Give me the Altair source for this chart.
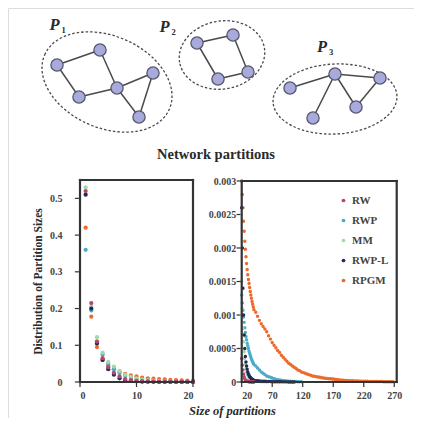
import altair as alt
import pandas as pd

# ---------------- data ----------------
SERIES = ["RW", "RWP", "MM", "RWP-L", "RPGM"]
COLORS = ["#b8456a", "#4bacc6", "#a3d9a8", "#1f2a5c", "#ec6a2c"]
DRAW_ORDER = ["RPGM", "RWP", "MM", "RWP-L", "RW"]

# left panel: partition sizes 1..20
LEFT_SIZES = list(range(1, 21))
LEFT_RW = [0.52, 0.215, 0.11, 0.065, 0.04, 0.025, 0.015, 0.008, 0.005, 0.003,
           0.002, 0.001, 0.001, 0.0005, 0.0004, 0.0003, 0.0002, 0.0002, 0.0001, 0.0001]
LEFT_RWP = [0.36, 0.195, 0.11, 0.075, 0.05, 0.035, 0.025, 0.017, 0.011, 0.008,
            0.005, 0.004, 0.003, 0.002, 0.0015, 0.0012, 0.001, 0.0008, 0.0006, 0.0005]
LEFT_MM = [0.53, 0.205, 0.122, 0.08, 0.055, 0.042, 0.03, 0.02, 0.014, 0.01,
           0.007, 0.005, 0.004, 0.003, 0.002, 0.0015, 0.0012, 0.001, 0.0008, 0.0006]
LEFT_RWPL = [0.51, 0.2, 0.105, 0.06, 0.035, 0.02, 0.01, 0.005, 0.003, 0.002,
             0.001, 0.001, 0.0005, 0.0003, 0.0002, 0.0002, 0.0001, 0.0001, 0.0001, 0.0001]
LEFT_RPGM = [0.42, 0.178, 0.095, 0.06, 0.045, 0.035, 0.028, 0.022, 0.018, 0.015,
             0.012, 0.01, 0.009, 0.008, 0.007, 0.006, 0.005, 0.0045, 0.004, 0.0035]

# right panel: sizes 20..40 every 1, then every 3 from 43
RIGHT_HEAD_SIZES = list(range(20, 41))
RIGHT_RW_HEAD = [0.00035, 0.00025, 0.00018, 0.00012, 0.00008, 0.00005, 0.00003, 0.00002,
                 0.000015, 0.00001, 0.000008, 0.000006, 0.000005, 0.000004, 0.000003,
                 0.000002, 0.000002, 0.000001, 0.000001, 0.000001, 0.000001]
RIGHT_RW_TAIL = []
RIGHT_RWP_HEAD = [0.0013, 0.00118, 0.00107, 0.00097, 0.00089, 0.00081, 0.00074, 0.00068,
                  0.00063, 0.00058, 0.00054, 0.0005, 0.00046, 0.00043, 0.0004, 0.00037,
                  0.00034, 0.00032, 0.0003, 0.00028, 0.00026]
RIGHT_RWP_TAIL = [0.00024, 0.00021, 0.00018, 0.00015, 0.00013, 0.00011, 0.00009, 0.00008,
                  0.00007, 0.00006, 0.00005, 0.00004, 0.000035, 0.00003, 0.000025, 0.00002,
                  0.000018, 0.000015, 0.000012, 0.00001, 0.000008, 0.000007, 0.000006,
                  0.000005, 0.000004, 0.000003]
RIGHT_MM_HEAD = [0.0015, 0.0011, 0.0008, 0.0006, 0.00045, 0.00035, 0.00027, 0.0002, 0.00015,
                 0.00012, 0.0001, 0.00008, 0.00006, 0.00005, 0.00004, 0.00003, 0.000025,
                 0.00002, 0.000018, 0.000015, 0.000012]
RIGHT_MM_TAIL = [0.00001, 0.000008, 0.000006, 0.000005, 0.000004, 0.000003, 0.000002]
RIGHT_RWPL_HEAD = [0.0026, 0.002, 0.0014, 0.001, 0.0007, 0.0005, 0.00038, 0.0003, 0.00024,
                   0.00019, 0.00015, 0.00012, 0.0001, 0.00008, 0.00007, 0.00006, 0.00005,
                   0.00004, 0.000035, 0.00003, 0.000025]
RIGHT_RWPL_TAIL = [0.00002, 0.000018, 0.000015, 0.000013, 0.000011, 0.00001, 0.000008,
                   0.000007, 0.000006, 0.000005, 0.000005, 0.000004, 0.000004, 0.000003,
                   0.000003, 0.000002, 0.000002, 0.000002, 0.000001, 0.000001, 0.000001,
                   0.000001]
RIGHT_RPGM_HEAD = [0.003, 0.0028, 0.0026, 0.0024, 0.00225, 0.0021, 0.00198, 0.00187, 0.00177,
                   0.00168, 0.0016, 0.00153, 0.00147, 0.00141, 0.00135, 0.0013, 0.00125,
                   0.0012, 0.00116, 0.00112, 0.00108]
RIGHT_RPGM_TAIL = [0.00104, 0.00098, 0.00092, 0.00087, 0.00083, 0.00079, 0.00075, 0.00069,
                   0.00064, 0.00059, 0.00055, 0.00051, 0.00047, 0.00044, 0.0004, 0.00037,
                   0.00034, 0.00031, 0.00028, 0.00026, 0.00024, 0.00022, 0.0002, 0.00018,
                   0.00017, 0.00015, 0.00014, 0.00013, 0.00012, 0.00011, 0.0001, 0.00009,
                   0.000085, 0.00008, 0.000075, 0.00007, 0.000065, 0.00006, 0.000057,
                   0.000054, 0.00005, 0.000047, 0.000044, 0.00004, 0.000037, 0.000034,
                   0.000031, 0.000028, 0.000026, 0.000024, 0.000022, 0.00002, 0.000019,
                   0.000018, 0.000016, 0.000015, 0.000014, 0.000013, 0.000012, 0.000011,
                   0.00001, 0.00001, 0.000009, 0.000009, 0.000008, 0.000008, 0.000007,
                   0.000007, 0.000006, 0.000006, 0.000005, 0.000005, 0.000005, 0.000004,
                   0.000004, 0.000004]

LEFT_X_DOMAIN = [0, 20]
LEFT_Y_DOMAIN = [0, 0.55]
RIGHT_X_DOMAIN = [20, 274]
RIGHT_Y_DOMAIN = [0, 0.003]
LEFT_X_TICKS = [0, 10, 20]
LEFT_Y_TICKS = [0, 0.1, 0.2, 0.3, 0.4, 0.5]
RIGHT_X_TICKS = [20, 70, 120, 170, 220, 270]
RIGHT_Y_TICKS = [0, 0.0005, 0.001, 0.0015, 0.002, 0.0025, 0.003]

# network diagram (picture coordinates)
NODE_X = [57, 100, 79, 117, 153, 139, 197, 233, 248, 218, 290, 335, 380, 356, 313]
NODE_Y = [65, 50, 97, 88, 73, 117, 43, 35, 72, 79, 88, 74, 78, 107, 118]
EDGES = [(0, 1), (0, 2), (2, 3), (1, 3), (3, 4), (3, 5), (4, 5),
         (6, 7), (7, 8), (8, 9), (9, 6),
         (10, 11), (14, 11), (11, 12), (11, 13), (13, 12)]
ELL_CX = [107, 222, 335]
ELL_CY = [82, 55, 99]
ELL_RX = [68, 43, 62]
ELL_RY = [46, 34, 35]
ELL_ANGLE = [23.5, 350, 357]
P_LABEL_X = [54.5, 164.5, 322]
P_LABEL_Y = [25, 26.5, 47]
P_SUBS = ["1", "2", "3"]
CAPTION = "Network partitions"

# ---------------- layout (page pixels) ----------------
PAGE_MARGIN = 8
W, H = 406, 410
LEFT_BOX = (80, 193, 180, 382)        # left, right, top, bottom of left plot frame
RIGHT_BOX = (241.7, 396.7, 181, 382)  # left, right, top, bottom of right plot frame
FRAME_HALF = 1.1
TICK_LEN = 4

SERIF = "Liberation Serif"
TXT = "#2a2a2a"
FRAME = "#333333"

# ---------------- tables ----------------
left_map = {"RW": LEFT_RW, "RWP": LEFT_RWP, "MM": LEFT_MM, "RWP-L": LEFT_RWPL, "RPGM": LEFT_RPGM}
rows = []
for s in DRAW_ORDER:
    for x, v in zip(LEFT_SIZES, left_map[s]):
        rows.append({"size": x, "value": v, "series": s})
left_df = pd.DataFrame(rows)

right_map = {
    "RW": (RIGHT_RW_HEAD, RIGHT_RW_TAIL),
    "RWP": (RIGHT_RWP_HEAD, RIGHT_RWP_TAIL),
    "MM": (RIGHT_MM_HEAD, RIGHT_MM_TAIL),
    "RWP-L": (RIGHT_RWPL_HEAD, RIGHT_RWPL_TAIL),
    "RPGM": (RIGHT_RPGM_HEAD, RIGHT_RPGM_TAIL),
}
rows = []
for s in DRAW_ORDER:
    head, tail = right_map[s]
    xs = RIGHT_HEAD_SIZES + list(range(43, 43 + 3 * len(tail), 3))
    for x, v in zip(xs, head + tail):
        rows.append({"size": x, "value": v, "series": s})
right_df = pd.DataFrame(rows)

nodes_df = pd.DataFrame({"x": NODE_X, "y": NODE_Y})
edges_df = pd.DataFrame([{"x": NODE_X[a], "y": NODE_Y[a], "x2": NODE_X[b], "y2": NODE_Y[b]}
                         for a, b in EDGES])


def ellipse_path(r):
    k = 0.5523
    return (f"M -1 0 C -1 {-k*r:.4f} {-k:.4f} {-r:.4f} 0 {-r:.4f} "
            f"C {k:.4f} {-r:.4f} 1 {-k*r:.4f} 1 0 "
            f"C 1 {k*r:.4f} {k:.4f} {r:.4f} 0 {r:.4f} "
            f"C {-k:.4f} {r:.4f} -1 {k*r:.4f} -1 0 Z")


def box_bars(box, h=FRAME_HALF):
    # four thin filled bars forming the frame of a plot box
    l, r, t, b = box
    return [{"x": l - h, "x2": r + h, "y": t - h, "y2": t + h},
            {"x": l - h, "x2": r + h, "y": b - h, "y2": b + h},
            {"x": l - h, "x2": l + h, "y": t - h, "y2": b + h},
            {"x": r - h, "x2": r + h, "y": t - h, "y2": b + h}]


frames_df = pd.DataFrame(box_bars(LEFT_BOX) + box_bars(RIGHT_BOX))

ell_df = pd.DataFrame({
    "x": ELL_CX, "y": ELL_CY,
    "path": [ellipse_path(ry / rx) for rx, ry in zip(ELL_RX, ELL_RY)],
    "size": [4 * rx * rx for rx in ELL_RX],
    "angle": ELL_ANGLE,
})
plab_df = pd.DataFrame({"x": P_LABEL_X, "y": P_LABEL_Y, "t": ["P"] * 3})
psub_df = pd.DataFrame({"x": [x + 9 for x in P_LABEL_X], "y": [y + 5 for y in P_LABEL_Y], "t": P_SUBS})
cap_df = pd.DataFrame({"x": [216], "y": [155], "t": [CAPTION]})

# ---------------- canvas ----------------
cx = alt.Scale(domain=[PAGE_MARGIN, PAGE_MARGIN + W], range=[0, W])
cy = alt.Scale(domain=[PAGE_MARGIN + H, PAGE_MARGIN], range=[H, 0])
X = lambda f: alt.X(f, type="quantitative", scale=cx, axis=None)
Y = lambda f: alt.Y(f, type="quantitative", scale=cy, axis=None)

ellipses = alt.Chart(ell_df).mark_point(
    filled=False, color="#4a4a4a", strokeWidth=1.3, strokeDash=[2.5, 2], opacity=1
).encode(
    x=X("x"), y=Y("y"),
    shape=alt.Shape("path:N", scale=None, legend=None),
    size=alt.Size("size:Q", scale=None, legend=None),
    angle=alt.Angle("angle:Q", scale=None),
)
edges = alt.Chart(edges_df).mark_rule(color="#4a4a4a", strokeWidth=1.5).encode(
    x=X("x"), y=Y("y"), x2="x2:Q", y2="y2:Q")
nodes = alt.Chart(nodes_df).mark_circle(
    size=150, fill="#a7aadb", stroke="#55586f", strokeWidth=1.3, opacity=1
).encode(x=X("x"), y=Y("y"))
plab = alt.Chart(plab_df).mark_text(
    font=SERIF, fontSize=16.5, fontStyle="italic", fontWeight="bold", color=TXT
).encode(x=X("x"), y=Y("y"), text="t:N")
psub = alt.Chart(psub_df).mark_text(
    font=SERIF, fontSize=8.5, fontWeight="bold", color=TXT
).encode(x=X("x"), y=Y("y"), text="t:N")
cap = alt.Chart(cap_df).mark_text(
    font=SERIF, fontSize=14.5, fontWeight="bold", color=TXT
).encode(x=X("x"), y=Y("y"), text="t:N")
frames = alt.Chart(frames_df).mark_rect(color=FRAME, opacity=1).encode(
    x=X("x"), y=Y("y"), x2="x2:Q", y2="y2:Q")
diagram = alt.layer(ellipses, edges, nodes, plab, psub, cap, frames)

# ---------------- panels ----------------
color_scale = alt.Scale(domain=SERIES, range=COLORS)
lab = dict(labelFont=SERIF, labelFontSize=10, labelFontWeight="bold", labelColor="#444",
           domain=False, grid=False, ticks=False)


def xr(box):
    return [box[0] - PAGE_MARGIN, box[1] - PAGE_MARGIN]


def yr(box):
    return [box[3] - PAGE_MARGIN, box[2] - PAGE_MARGIN]


# left panel
lx = alt.Scale(domain=LEFT_X_DOMAIN, range=xr(LEFT_BOX), nice=False, zero=False)
ly = alt.Scale(domain=LEFT_Y_DOMAIN, range=yr(LEFT_BOX), nice=False)
lx_axis = alt.Axis(orient="bottom", offset=LEFT_BOX[3] - PAGE_MARGIN - H, values=LEFT_X_TICKS,
                   format="d", labelPadding=8, title=None, **lab)
ly_axis = alt.Axis(orient="left", offset=-(LEFT_BOX[0] - PAGE_MARGIN), values=LEFT_Y_TICKS,
                   format="~g", labelPadding=18, title="Distribution of Partition Sizes",
                   titleFont=SERIF, titleFontSize=11.5, titleFontWeight="bold", titleColor=TXT,
                   titleX=-42, titleY=273, titleAngle=270, titleAlign="center",
                   titleBaseline="middle", **lab)
lpts = alt.Chart(left_df).mark_circle(size=18, opacity=1).encode(
    x=alt.X("size:Q", scale=lx, axis=lx_axis),
    y=alt.Y("value:Q", scale=ly, axis=ly_axis),
    color=alt.Color("series:N", scale=color_scale, legend=None),
)
# outward tick marks drawn as small rects through the panel scales
lyt = alt.Chart(pd.DataFrame({"v": LEFT_Y_TICKS})).mark_tick(
    orient="horizontal", size=TICK_LEN, thickness=1.2, color=FRAME, opacity=1,
    xOffset=-TICK_LEN / 2 - FRAME_HALF).encode(
    y=alt.Y("v:Q", scale=ly, axis=None),
    x=alt.XDatum(LEFT_X_DOMAIN[0], type="quantitative", scale=lx, axis=None))
lxt = alt.Chart(pd.DataFrame({"v": LEFT_X_TICKS})).mark_tick(
    orient="vertical", size=TICK_LEN, thickness=1.2, color=FRAME, opacity=1,
    yOffset=TICK_LEN / 2 + FRAME_HALF).encode(
    x=alt.X("v:Q", scale=lx, axis=None),
    y=alt.YDatum(LEFT_Y_DOMAIN[0], type="quantitative", scale=ly, axis=None))

# right panel
rx = alt.Scale(domain=RIGHT_X_DOMAIN, range=xr(RIGHT_BOX), nice=False, zero=False)
ry = alt.Scale(domain=RIGHT_Y_DOMAIN, range=yr(RIGHT_BOX), nice=False)
rx_axis = alt.Axis(orient="bottom", offset=RIGHT_BOX[3] - PAGE_MARGIN - H, values=RIGHT_X_TICKS,
                   format="d", labelPadding=8, title="Size of partitions",
                   titleFont=SERIF, titleFontSize=12.5, titleFontWeight="bold",
                   titleFontStyle="italic", titleColor=TXT,
                   titleX=224, titleY=28, titleAlign="center", titleBaseline="middle", **lab)
ry_axis = alt.Axis(orient="left", offset=-(RIGHT_BOX[0] - PAGE_MARGIN), values=RIGHT_Y_TICKS,
                   format="~g", labelPadding=6, title=None, **lab)
rpts = alt.Chart(right_df).mark_circle(size=12, opacity=1).encode(
    x=alt.X("size:Q", scale=rx, axis=rx_axis),
    y=alt.Y("value:Q", scale=ry, axis=ry_axis),
    color=alt.Color("series:N", scale=color_scale,
                    legend=alt.Legend(orient="none", legendX=330, legendY=187, title=None,
                                      symbolType="circle", symbolSize=14,
                                      labelFont=SERIF, labelFontSize=11,
                                      labelFontWeight="bold", labelColor="#444",
                                      rowPadding=8, labelOffset=3)),
)
ryt = alt.Chart(pd.DataFrame({"v": RIGHT_Y_TICKS})).mark_tick(
    orient="horizontal", size=TICK_LEN, thickness=1.2, color=FRAME, opacity=1,
    xOffset=-TICK_LEN / 2 - FRAME_HALF).encode(
    y=alt.Y("v:Q", scale=ry, axis=None),
    x=alt.XDatum(RIGHT_X_DOMAIN[0], type="quantitative", scale=rx, axis=None))
rxt = alt.Chart(pd.DataFrame({"v": RIGHT_X_TICKS})).mark_tick(
    orient="vertical", size=TICK_LEN, thickness=1.2, color=FRAME, opacity=1,
    yOffset=TICK_LEN / 2 + FRAME_HALF).encode(
    x=alt.X("v:Q", scale=rx, axis=None),
    y=alt.YDatum(RIGHT_Y_DOMAIN[0], type="quantitative", scale=ry, axis=None))

chart = alt.layer(lpts, rpts, lyt, lxt, ryt, rxt, diagram).resolve_scale(
    x="independent", y="independent", color="independent"
).resolve_axis(x="independent", y="independent").properties(
    width=W, height=H, padding=0, autosize=alt.AutoSizeParams(type="none")
).configure_view(stroke=None).configure(background="white")

chart.save("out.html", embed_options={"renderer": "svg", "actions": False})
